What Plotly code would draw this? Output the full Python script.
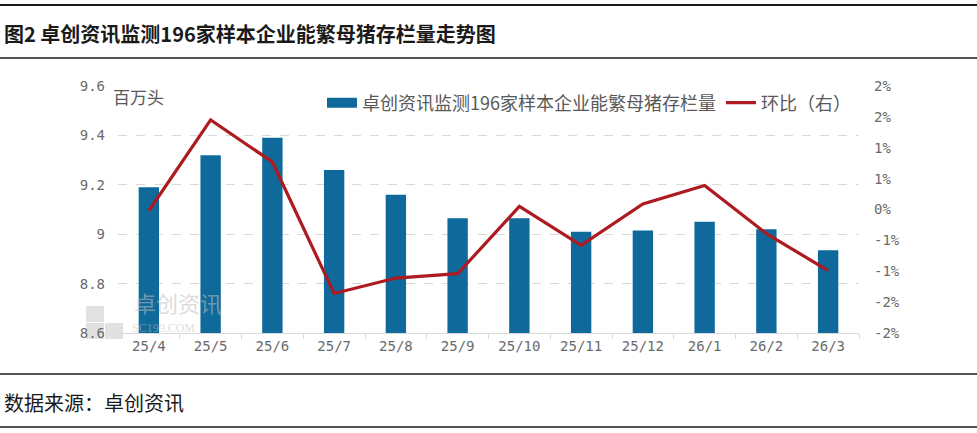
import plotly.graph_objects as go

categories = ["25/4", "25/5", "25/6", "25/7", "25/8", "25/9", "25/10", "25/11", "25/12", "26/1", "26/2", "26/3"]
inventory = [9.19, 9.32, 9.39, 9.26, 9.16, 9.065, 9.065, 9.01, 9.015, 9.05, 9.02, 8.935]
mom_pct = [-0.02, 1.45, 0.77, -1.36, -1.11, -1.04, 0.05, -0.58, 0.09, 0.39, -0.39, -0.99]

left_ticks = [8.6, 8.8, 9.0, 9.2, 9.4, 9.6]
left_ticktext = ["8.6", "8.8", "9", "9.2", "9.4", "9.6"]
right_ticks = [-2, -1.5, -1, -0.5, 0, 0.5, 1, 1.5, 2]
right_ticktext = ["-2%", "-2%", "-1%", "-1%", "0%", "1%", "1%", "2%", "2%"]

bar_name = "卓创资讯监测196家样本企业能繁母猪存栏量"
line_name = "环比（右）"
title_text = "图2 卓创资讯监测196家样本企业能繁母猪存栏量走势图"
source_text = "数据来源：卓创资讯"
unit_text = "百万头"

W, H = 977, 433
L, R, T, B = 118, 118, 86, 100
PW, PH = W - L - R, H - T - B

def px(x):
    return (x - L) / PW

def py(y):
    return (H - B - y) / PH

bar_color = "#0f6a9b"
line_color = "#ad1a1f"

fig = go.Figure()
fig.add_trace(go.Bar(
    x=categories, y=inventory, name=bar_name, showlegend=False,
    marker=dict(color=bar_color, line=dict(width=0)),
    width=0.33, base=0,
))
# legend swatch for bars (wide rectangle)
fig.add_trace(go.Scatter(
    x=[None], y=[None], name=bar_name, mode="lines",
    line=dict(color=bar_color, width=10),
))
fig.add_trace(go.Scatter(
    x=categories, y=mom_pct, name=line_name, yaxis="y2",
    mode="lines", line=dict(color=line_color, width=3.2),
))

cjk = "Noto Sans CJK SC"
tickfont = dict(family="DejaVu Sans Mono, " + cjk, size=14, color="#6a6a6a")

fig.update_layout(
    width=W, height=H,
    margin=dict(l=L, r=R, t=T, b=B, pad=0),
    paper_bgcolor="white", plot_bgcolor="white",
    font=dict(family=cjk, color="#595959"),
    showlegend=True,
    legend=dict(
        orientation="h", x=px(856), xanchor="right", y=py(103), yanchor="middle",
        font=dict(family=cjk, size=18, color="#595959"),
        bgcolor="rgba(0,0,0,0)", itemwidth=30, tracegroupgap=0,
    ),
    bargap=0.67,
    xaxis=dict(
        type="category", showgrid=False, showline=True, linecolor="#d9d9d9", linewidth=1,
        ticks="outside", tickson="boundaries", ticklen=5, tickcolor="#d9d9d9",
        tickfont=tickfont, zeroline=False,
    ),
    yaxis=dict(
        range=[8.6, 9.6], tickvals=left_ticks, ticktext=left_ticktext,
        showgrid=True, gridcolor="#d9d9d9", griddash="dash", gridwidth=1,
        showline=False, zeroline=False, ticks="", tickfont=tickfont, ticklabelstandoff=12,
    ),
    yaxis2=dict(
        overlaying="y", side="right", range=[-2, 2], tickvals=right_ticks, ticktext=right_ticktext,
        showgrid=False, zeroline=False, showline=False, ticks="", tickfont=tickfont,
        ticklabelstandoff=14,
    ),
)

# watermark
wm = "rgba(190,190,190,0.55)"
fig.add_annotation(xref="paper", yref="paper", x=px(132), y=py(302),
                   text="卓创资讯", showarrow=False, xanchor="left", yanchor="middle",
                   font=dict(family=cjk, size=22, color=wm))
fig.add_annotation(xref="paper", yref="paper", x=px(130), y=py(328),
                   text="SC199.COM", showarrow=False, xanchor="left", yanchor="middle",
                   font=dict(family="Liberation Serif", size=12, color=wm))
for (x0, y0, x1, y1) in [(86, 306, 104, 322), (86, 323, 104, 339), (105, 323, 123, 339)]:
    fig.add_shape(type="rect", xref="paper", yref="paper",
                  x0=px(x0), x1=px(x1), y0=py(y1), y1=py(y0),
                  fillcolor="rgba(200,200,200,0.55)", line=dict(width=0), layer="below")

# unit label
fig.add_annotation(xref="paper", yref="paper", x=px(111), y=py(96),
                   text=unit_text, showarrow=False, xanchor="left", yanchor="middle",
                   font=dict(family=cjk, size=17, color="#595959"))

# title and source
fig.add_annotation(xref="paper", yref="paper", x=px(2), y=py(33),
                   text="<b>" + title_text + "</b>", showarrow=False, xanchor="left", yanchor="middle",
                   font=dict(family=cjk, size=20, color="#1a1a1a"))
fig.add_annotation(xref="paper", yref="paper", x=px(2), y=py(402),
                   text=source_text, showarrow=False, xanchor="left", yanchor="middle",
                   font=dict(family=cjk, size=20, color="#1a1a1a"))

# horizontal rules
for yy, lw in [(5, 2), (58, 1.5), (374, 1.5), (427, 1.5)]:
    fig.add_shape(type="line", xref="paper", yref="paper",
                  x0=px(0), x1=px(W), y0=py(yy), y1=py(yy),
                  line=dict(color="#1a1a1a", width=lw))

fig.write_html("out.html")
